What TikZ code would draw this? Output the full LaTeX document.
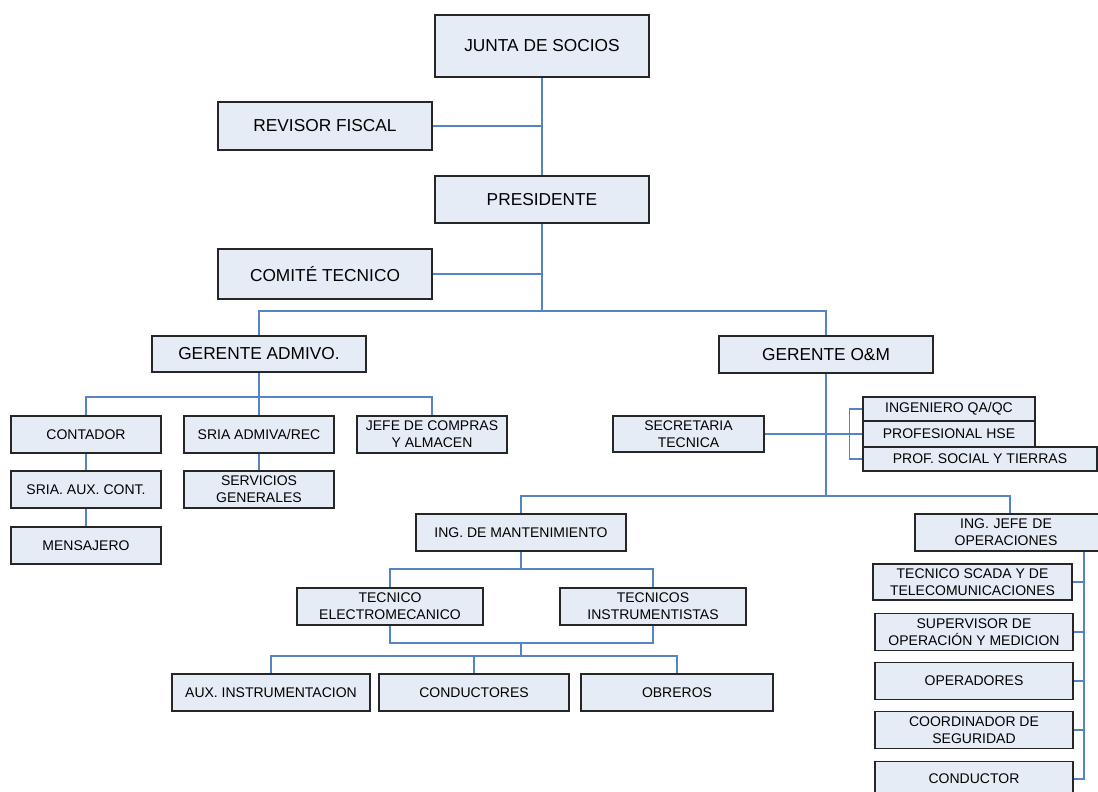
\documentclass[tikz,border=0pt]{standalone}
\usepackage{fontspec}
\setmainfont{Liberation Sans}
\usetikzlibrary{calc}
\definecolor{boxfill}{HTML}{E6ECF6}
\definecolor{linkblue}{HTML}{5584C4}
\definecolor{boxline}{HTML}{262626}
\tikzset{
  orgbox/.style={draw=boxline, line width=1.3pt, fill=boxfill, inner sep=0pt, align=center},
  big/.style={orgbox, font=\fontsize{17.3}{20}\selectfont},
  small/.style={orgbox, font=\fontsize{14}{17}\selectfont},
  link/.style={draw=linkblue, line width=1.3pt}
}
\begin{document}
\begin{tikzpicture}[x=1pt,y=-1pt]
\useasboundingbox (0,0) rectangle (1098,792);
\clip (0,0) rectangle (1098,792);
% top levels
\node[big, minimum width=214pt, minimum height=62pt] (junta) at (542,46) {JUNTA DE SOCIOS};
\node[big, minimum width=214pt, minimum height=48pt] (revisor) at (325,126) {REVISOR FISCAL};
\node[big, minimum width=214pt, minimum height=47pt] (pres) at (542,199.5) {PRESIDENTE};
\node[big, minimum width=214pt, minimum height=50pt] (comite) at (325,274) {COMITÉ TECNICO};
\node[big, minimum width=214pt, minimum height=36pt] (gadm) at (259,354) {GERENTE ADMIVO.};
\node[big, minimum width=214pt, minimum height=37pt] (gom) at (826,354.5) {GERENTE O\&M};
% admin branch
\node[small, minimum width=150pt, minimum height=37pt] (contador) at (86,434.5) {CONTADOR};
\node[small, minimum width=150pt, minimum height=37pt] (sria) at (259,434.5) {SRIA ADMIVA/REC};
\node[small, minimum width=150pt, minimum height=37pt] (jefe) at (432,434.5) {JEFE DE COMPRAS\\Y ALMACEN};
\node[small, minimum width=150pt, minimum height=37pt] (sriaaux) at (86,489.5) {SRIA. AUX. CONT.};
\node[small, minimum width=150pt, minimum height=37pt] (serv) at (259,489.5) {SERVICIOS\\GENERALES};
\node[small, minimum width=150pt, minimum height=37pt] (mens) at (86,545.5) {MENSAJERO};
% O&M branch
\node[small, minimum width=151pt, minimum height=36pt] (sect) at (688.5,434) {SECRETARIA\\TECNICA};
\node[small, minimum width=172pt, minimum height=24pt] (qa) at (949,409) {INGENIERO QA/QC};
\node[small, minimum width=172pt, minimum height=26pt] (hse) at (949,434) {PROFESIONAL HSE};
\node[small, minimum width=234pt, minimum height=24pt] (soc) at (980,459) {PROF. SOCIAL Y TIERRAS};
\node[small, minimum width=210pt, minimum height=37pt] (ingm) at (521,532.5) {ING. DE MANTENIMIENTO};
\node[small, minimum width=190pt, minimum height=37pt, text width=182pt] (ingj) at (1010,532.5) {\hspace*{-8pt}ING. JEFE DE\\\hspace*{-8pt}OPERACIONES};
\node[small, minimum width=186pt, minimum height=37pt] (tecel) at (390,606.5) {TECNICO\\ELECTROMECANICO};
\node[small, minimum width=186pt, minimum height=37pt] (tecins) at (653,606.5) {TECNICOS\\INSTRUMENTISTAS};
\node[small, minimum width=198pt, minimum height=37pt] (aux) at (271,692.5) {AUX. INSTRUMENTACION};
\node[small, minimum width=190pt, minimum height=37pt] (cond) at (474,692.5) {CONDUCTORES};
\node[small, minimum width=192pt, minimum height=37pt] (obr) at (677,692.5) {OBREROS};
\node[small, minimum width=199pt, minimum height=36pt] (scada) at (972.5,582) {TECNICO SCADA Y DE\\TELECOMUNICACIONES};
\node[small, minimum width=198pt, minimum height=37pt] (sup) at (974,632) {SUPERVISOR DE\\OPERACIÓN Y MEDICION};
\node[small, minimum width=198pt, minimum height=37pt] (oper) at (974,681) {OPERADORES};
\node[small, minimum width=198pt, minimum height=37pt] (coord) at (974,730) {COORDINADOR DE\\SEGURIDAD};
\node[small, minimum width=198pt, minimum height=37pt, anchor=north] (condr) at (974,761) {};
\node[font=\fontsize{14}{17}\selectfont] (condrtxt) at (974,779) {CONDUCTOR};
% junction points
\coordinate (b1) at (542,311);
\coordinate (b2) at (259,397);
\coordinate (b3) at (826,496);
\coordinate (b4) at (521,569);
\coordinate (b5) at (521,643);
\coordinate (b6) at (521,656);
\coordinate (br) at ($(qa.west)+(-13,0)$);
\coordinate (vt) at ($(ingj.south)+(74,0)$);
% connectors
\draw[link] (junta.south) -- (pres.north);
\draw[link] (revisor.east) -- (revisor.east -| junta.south);
\draw[link] (comite.east) -- (comite.east -| pres.south);
\draw[link] (pres.south) -- (b1);
\draw[link] (gadm.north) |- (b1) -| (gom.north);
\draw[link] (gadm.south) -- (b2);
\draw[link] (contador.north) |- (b2) -| (jefe.north);
\draw[link] (sria.north) -- (sria.north |- b2);
\draw[link] (contador.south) -- (sriaaux.north);
\draw[link] (sriaaux.south) -- (mens.north);
\draw[link] (sria.south) -- (serv.north);
\draw[link] (gom.south) -- (b3);
\draw[link] (ingm.north) |- (b3) -| (ingj.north);
\draw[link] (sect.east) -- (hse.west);
\draw[link] (qa.west) -- (br) |- (soc.west);
\draw[link] (ingm.south) -- (b4);
\draw[link] (tecel.north) |- (b4) -| (tecins.north);
\draw[link] (tecel.south) |- (b5) -| (tecins.south);
\draw[link] (b5) -- (b6);
\draw[link] (aux.north) |- (b6) -| (obr.north);
\draw[link] (cond.north) -- (cond.north |- b6);
\draw[link] (vt) |- (condr.east |- condrtxt);
\draw[link] (scada.east) -- (scada.east -| vt);
\draw[link] (sup.east) -- (sup.east -| vt);
\draw[link] (oper.east) -- (oper.east -| vt);
\draw[link] (coord.east) -- (coord.east -| vt);
\end{tikzpicture}
\end{document}
